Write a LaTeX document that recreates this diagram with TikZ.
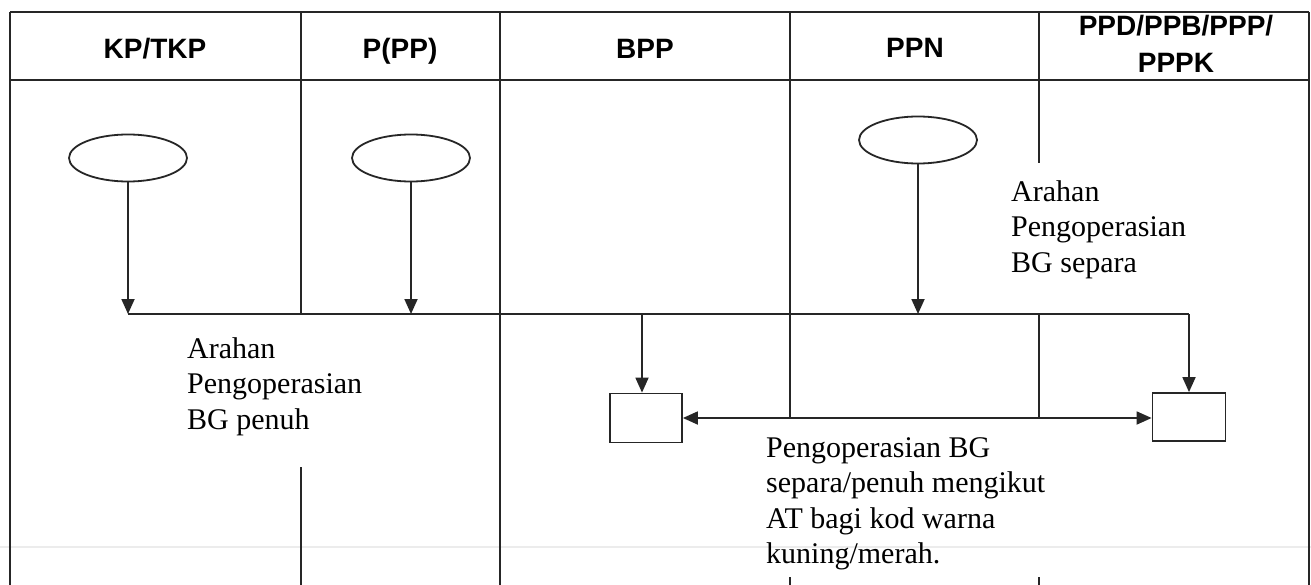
\documentclass[tikz,border=0pt]{standalone}
\usepackage{fontspec}
\setmainfont{Liberation Serif}
\newfontfamily\hdfont{Liberation Sans}
\usetikzlibrary{shapes.geometric,arrows.meta}
\begin{document}
\begin{tikzpicture}[x=1pt,y=-1pt,
  grid/.style={line width=1.5pt, draw=black!85},
  conn/.style={line width=1.8pt, draw=black!85},
  tip/.tip={Triangle[length=15pt,width=13pt]},
  arr/.style={conn, -tip},
  darr/.style={conn, tip-tip},
  oval/.style={ellipse, draw=black!85, line width=1.8pt, minimum width=118pt, minimum height=47pt, inner sep=0pt},
  sbox/.style={rectangle, draw=black!85, line width=1.8pt, minimum width=72pt, minimum height=49pt, inner sep=0pt},
  head/.style={font=\hdfont\bfseries\fontsize{28}{37}\selectfont, align=center, inner sep=0pt},
  note/.style={font=\fontsize{30}{35.5}\selectfont, align=left, anchor=north west, inner sep=0pt}
]
\useasboundingbox (0,0) rectangle (1311,585);
\fill[white] (0,0) rectangle (1311,585);
% scan artefact
\draw[gray!15, line width=2pt] (0,547) -- (1311,547);
% table
\draw[grid] (10,12) -- (1309,12);
\draw[grid] (10,80) -- (1309,80);
\draw[grid] (10,12) -- (10,585);
\draw[grid] (1309,12) -- (1309,585);
\draw[grid] (301,12) -- (301,314);
\draw[grid] (301,467) -- (301,585);
\draw[grid] (500,12) -- (500,585);
\draw[grid] (790,12) -- (790,417);
\draw[grid] (790,577) -- (790,585);
\draw[grid] (1039,12) -- (1039,163);
\draw[grid] (1039,314) -- (1039,417);
\draw[grid] (1039,577) -- (1039,585);
% headers
\node[head, anchor=base] (h1) at (155,59) {KP/TKP};
\node[head, anchor=base] (h2) at (400,59) {P(PP)};
\node[head, anchor=base] (h3) at (645,59) {BPP};
\node[head, anchor=base] (h4) at (915,58) {PPN};
\node[head, anchor=north] (h5) at (1176,15) {PPD/PPB/PPP/\\PPPK};
% shapes
\node[oval] (e1) at (128,158) {};
\node[oval] (e2) at (411,158) {};
\node[oval] (e3) at (918,140) {};
\node[sbox] (b1) at (646,418) {};
\node[sbox, minimum width=73pt, minimum height=48pt] (b2) at (1189,417) {};
% junctions
\coordinate (j1) at (128,314);
\coordinate (j2) at (411,314);
\coordinate (j3) at (918,314);
\coordinate (jb1) at (642,314);
\coordinate (jb2) at (1189,314);
% connectors
\draw[arr] (e1) -- (j1);
\draw[arr] (e2) -- (j2);
\draw[arr] (e3) -- (j3);
\draw[conn] (j1) -- (jb2);
\draw[arr] (jb1) -- (jb1 |- b1.north);
\draw[arr] (jb2) -- (b2.north);
\draw[darr] (b1.east) -- (b1.east -| b2.west);
% notes
\node[note] (t1) at (1011,180) {Arahan\\Pengoperasian\\BG separa};
\node[note] (t2) at (187,337) {Arahan\\Pengoperasian\\BG penuh};
\node[note] (t3) at (766,437) {Pengoperasian BG\\separa/penuh mengikut\\AT bagi kod warna\\kuning/merah.};
\end{tikzpicture}
\end{document}
